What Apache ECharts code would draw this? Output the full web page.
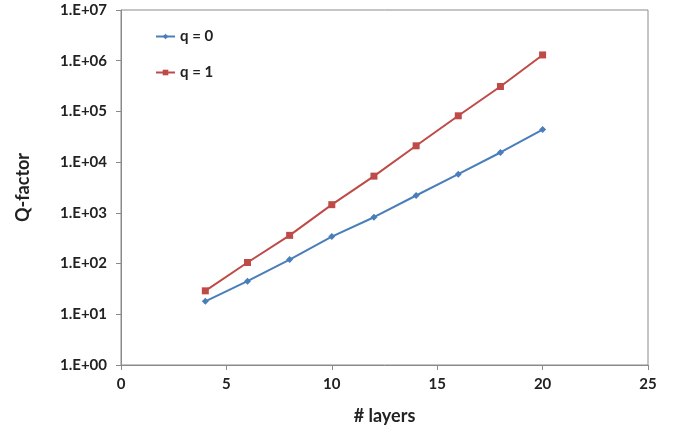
<!DOCTYPE html>
<html><head><meta charset="utf-8">
<script src="https://cdn.jsdelivr.net/npm/echarts@6/dist/echarts.min.js"></script>
<style>html,body{margin:0;padding:0;background:#fff}#c{width:684px;height:434px}</style>
</head><body><div id="c"></div>
<script>
var layers = [4, 6, 8, 10, 12, 14, 16, 18, 20];
var q0 = [18, 45, 120, 340, 820, 2200, 5800, 15500, 44000];
var q1 = [29, 105, 360, 1450, 5300, 21000, 82000, 310000, 1300000];
var seriesNames = ['q = 0', 'q = 1'];
var xTicks = [0, 5, 10, 15, 20, 25];

var font = 'Lato, "Open Sans", sans-serif';
function pairs(xs, ys){ return xs.map(function(x,i){ return [x, ys[i]]; }); }
var chart = echarts.init(document.getElementById('c'));
chart.setOption({
  animation: false,
  backgroundColor: '#fff',
  grid: {left: 121, right: 36, top: 10, bottom: 69, show: true, borderColor: '#8a8a8a', borderWidth: 1},
  legend: {
    orient: 'vertical', left: 150, top: 24, itemGap: 21, itemWidth: 19, itemHeight: 7,
    textStyle: {fontFamily: font, fontWeight: 'bold', fontSize: 15, color: '#222'},
    data: seriesNames
  },
  xAxis: {
    type: 'value', min: xTicks[0], max: xTicks[xTicks.length-1], interval: 5,
    name: '# layers', nameLocation: 'middle', nameGap: 42,
    nameTextStyle: {fontFamily: font, fontWeight: 'bold', fontSize: 18, color: '#222'},
    axisLine: {lineStyle: {color: '#8a8a8a'}},
    axisTick: {show: true, inside: false, length: 5, lineStyle: {color: '#8a8a8a'}},
    axisLabel: {fontFamily: font, fontWeight: 'bold', fontSize: 15, color: '#222', margin: 12},
    splitLine: {show: false}
  },
  yAxis: {
    type: 'log', logBase: 10, min: 1, max: 1e7,
    name: 'Q-factor', nameLocation: 'middle', nameGap: 89, nameRotate: 90,
    nameTextStyle: {fontFamily: font, fontWeight: 'bold', fontSize: 18, color: '#222'},
    axisLine: {show: true, lineStyle: {color: '#8a8a8a'}},
    axisTick: {show: true, inside: false, length: 5, lineStyle: {color: '#8a8a8a'}},
    axisLabel: {fontFamily: font, fontWeight: 'bold', fontSize: 15, color: '#222', margin: 14,
      formatter: function(v){ var e = Math.round(Math.log10(v)); return '1.E+' + (e < 10 ? '0' : '') + e; }},
    splitLine: {show: false}
  },
  series: [
    {name: seriesNames[0], type: 'line', data: pairs(layers, q0), symbol: 'diamond', symbolSize: 7,
     itemStyle: {color: '#4a7ebb'}, lineStyle: {color: '#4a7ebb', width: 2}},
    {name: seriesNames[1], type: 'line', data: pairs(layers, q1), symbol: 'rect', symbolSize: 7,
     itemStyle: {color: '#be4b48'}, lineStyle: {color: '#be4b48', width: 2}}
  ]
});
</script></body></html>
